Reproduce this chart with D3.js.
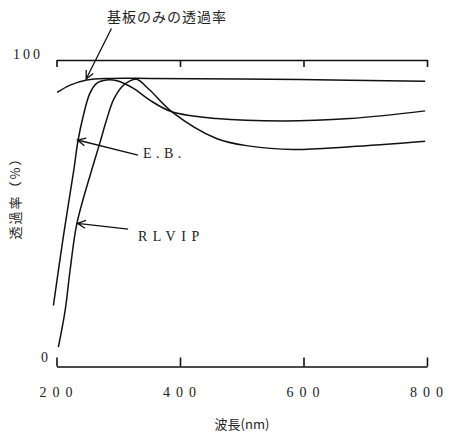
<!DOCTYPE html>
<html>
<head>
<meta charset="utf-8">
<script src="https://cdn.jsdelivr.net/npm/d3@7"></script>
<style>
  body { margin: 0; background: #fff; }
  svg text { fill: #222; }
  .mono { font-family: "Liberation Serif", "DejaVu Serif", serif; }
  .cjk { font-family: "Noto Sans CJK JP", sans-serif; }
</style>
</head>
<body>
<svg id="chart" width="449" height="434"></svg>
<script>
// wavelength (nm) / transmittance (%)
var substrateWl = [201, 222, 249, 287, 351, 594, 797];
var substrateT  = [89.4, 91.8, 93.5, 94.0, 94.0, 93.6, 93.1];

var ebWl = [195, 211, 228, 235, 243, 254, 265, 281, 298, 324, 351, 387, 459, 567, 675, 797];
var ebT  = [19.9, 42.3, 64.1, 73.9, 81.5, 89.1, 92.4, 93.5, 93.2, 90.8, 86.9, 83.1, 80.9, 80.1, 80.9, 83.4];

var rlvipWl = [203, 214, 222, 233, 257, 270, 281, 292, 306, 319, 330, 351, 387, 459, 513, 583, 675, 797];
var rlvipT  = [6.3, 18.3, 31.4, 46.6, 64.1, 72.8, 80.4, 86.9, 91.3, 93.2, 93.7, 90.2, 83.1, 74.4, 71.9, 70.8, 71.7, 73.5];

var xTicks = [200, 400, 600, 800];
var yTickLabels = ['100', '0'];

var svg = d3.select('#chart');

var x = d3.scaleLinear().domain([200, 800]).range([56.5, 427]);
var y = d3.scaleLinear().domain([0, 100]).range([366.5, 60]);

// top frame line with ticks pointing down
svg.append('g')
  .attr('transform', 'translate(0,' + y(100) + ')')
  .call(d3.axisBottom(x).tickValues(xTicks).tickSize(7).tickSizeOuter(0).tickFormat(''))
  .call(function(g) { g.selectAll('path, line').attr('stroke', '#111').attr('stroke-width', 1.6); });

// bottom axis, ticks pointing up
var bottom = svg.append('g')
  .attr('transform', 'translate(0,' + y(0) + ')')
  .call(d3.axisBottom(x).tickValues(xTicks).tickSize(-9).tickSizeOuter(0).tickPadding(21));
bottom.selectAll('path, line').attr('stroke', '#111').attr('stroke-width', 1.6);
bottom.selectAll('text')
  .attr('class', 'mono')
  .attr('font-size', 14)
  .attr('letter-spacing', 6)
  .attr('dx', 2)
  .attr('fill', '#333');

// y labels (only 100 and 0 are printed)
svg.selectAll('.ylab')
  .data(yTickLabels)
  .enter().append('text')
  .attr('class', 'ylab mono')
  .attr('text-anchor', 'end')
  .attr('x', function(d) { return d === '0' ? 48 : 43; })
  .attr('y', function(d) { return y(+d) - (d === '0' ? 5 : 1); })
  .attr('font-size', 14)
  .attr('letter-spacing', function(d) { return d === '0' ? 0 : 3; })
  .text(function(d) { return d; });

var line = d3.line()
  .x(function(d) { return x(d[0]); })
  .y(function(d) { return y(d[1]); })
  .curve(d3.curveCatmullRom.alpha(0.5));

var series = [
  d3.zip(substrateWl, substrateT),
  d3.zip(ebWl, ebT),
  d3.zip(rlvipWl, rlvipT)
];

svg.selectAll('.curve')
  .data(series)
  .enter().append('path')
  .attr('class', 'curve')
  .attr('d', line)
  .attr('fill', 'none')
  .attr('stroke', '#111')
  .attr('stroke-width', 1.5);

// annotations: [tail wl, tail %, tip wl, tip %]
var arrows = [
  [289, 110.3, 248, 93.8],
  [332, 69.0, 234, 73.9],
  [316, 44.8, 234, 46.7]
];

arrows.forEach(function(a) {
  var x1 = x(a[0]), y1 = y(a[1]), x2 = x(a[2]), y2 = y(a[3]);
  var ang = Math.atan2(y1 - y2, x1 - x2);
  var len = 9, spread = 0.45;
  svg.append('path')
    .attr('d', 'M' + x1 + ',' + y1 + 'L' + x2 + ',' + y2 +
      'M' + (x2 + len * Math.cos(ang - spread)) + ',' + (y2 + len * Math.sin(ang - spread)) +
      'L' + x2 + ',' + y2 +
      'L' + (x2 + len * Math.cos(ang + spread)) + ',' + (y2 + len * Math.sin(ang + spread)))
    .attr('fill', 'none')
    .attr('stroke', '#111')
    .attr('stroke-width', 1.3);
});

svg.append('text')
  .attr('class', 'cjk')
  .attr('x', 167).attr('y', 22)
  .attr('text-anchor', 'middle')
  .attr('font-size', 14)
  .attr('letter-spacing', 1)
  .text('基板のみの透過率');

svg.append('text')
  .attr('class', 'mono')
  .attr('x', x(340)).attr('y', y(68))
  .attr('font-size', 14)
  .attr('letter-spacing', 4.5)
  .text('E.B.');

svg.append('text')
  .attr('class', 'mono')
  .attr('x', x(332)).attr('y', y(40.9))
  .attr('font-size', 14)
  .attr('letter-spacing', 5.5)
  .text('RLVIP');

svg.append('text')
  .attr('class', 'cjk')
  .attr('transform', 'translate(20,195) rotate(-90)')
  .attr('text-anchor', 'middle')
  .attr('font-size', 13)
  .attr('letter-spacing', 2)
  .text('透過率（%）');

svg.append('text')
  .attr('class', 'cjk')
  .attr('x', 242).attr('y', 429)
  .attr('text-anchor', 'middle')
  .attr('font-size', 13)
  .text('波長(nm)');
</script>
</body>
</html>
